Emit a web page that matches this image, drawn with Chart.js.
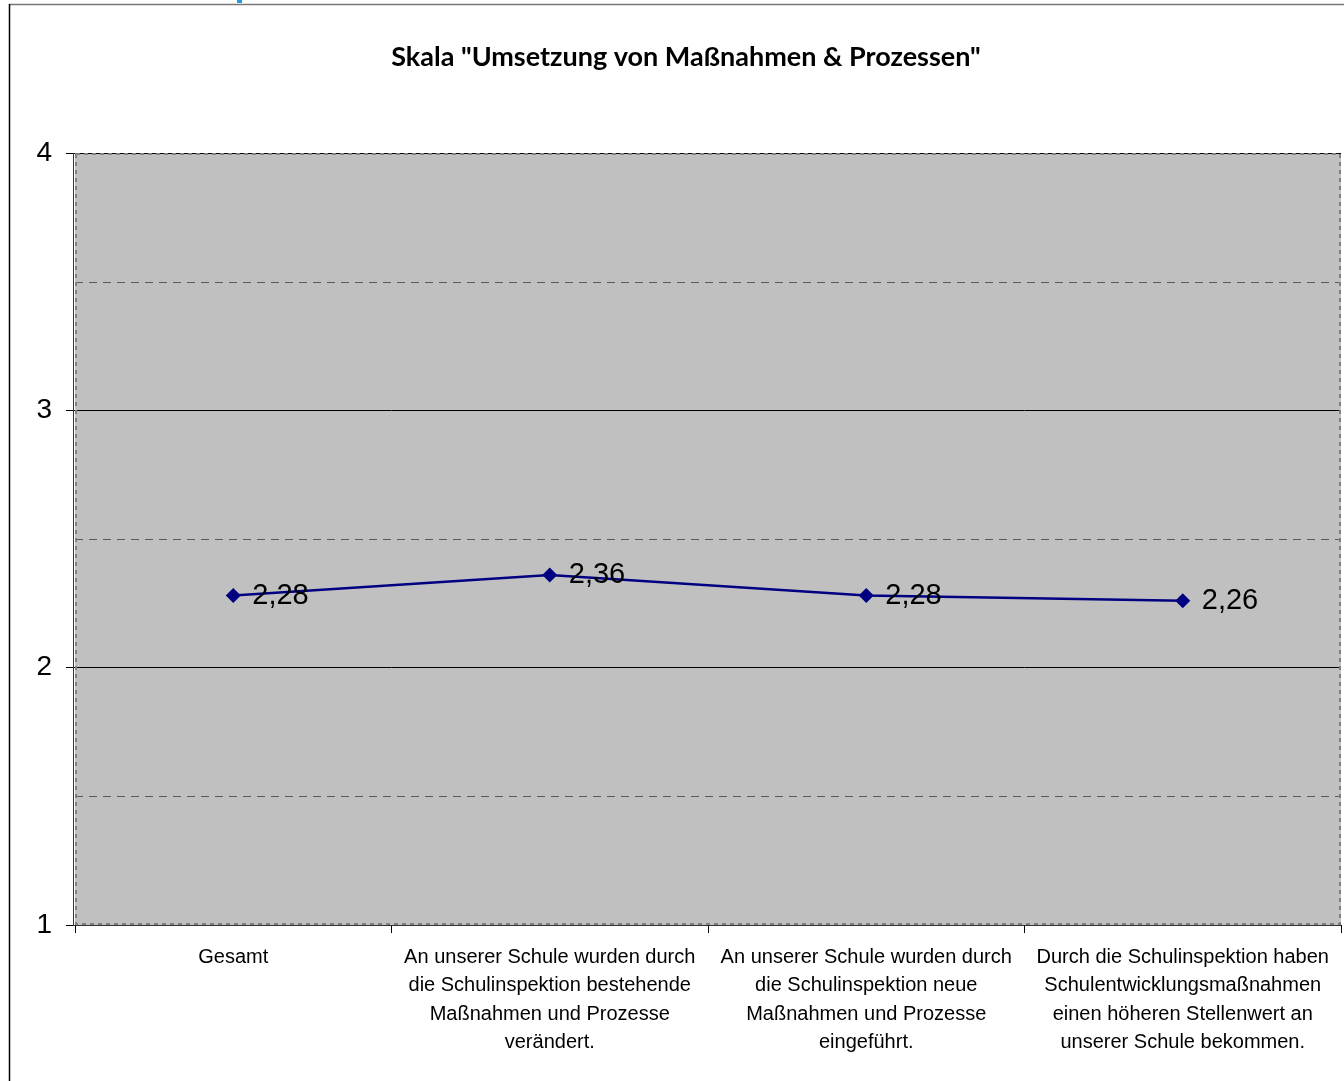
<!DOCTYPE html>
<html>
<head>
<meta charset="utf-8">
<script src="https://cdn.jsdelivr.net/npm/chart.js@4/dist/chart.umd.min.js"></script>
<style>
  html, body { margin: 0; padding: 0; background: #fff; }
  #wrap { width: 1344px; height: 1081px; }
</style>
</head>
<body>
<div id="wrap"><canvas id="c" width="1344" height="1081"></canvas></div>
<script>
// Scale items (x categories, multi-line labels)
const categories = [
  ['Gesamt'],
  ['An unserer Schule wurden durch', 'die Schulinspektion bestehende', 'Maßnahmen und Prozesse', 'verändert.'],
  ['An unserer Schule wurden durch', 'die Schulinspektion neue', 'Maßnahmen und Prozesse', 'eingeführt.'],
  ['Durch die Schulinspektion haben', 'Schulentwicklungsmaßnahmen', 'einen höheren Stellenwert an', 'unserer Schule bekommen.']
];
// Mean values per item
const meanValues = [2.28, 2.36, 2.28, 2.26];
// Y axis range and minor (dashed) gridline values
const yTicks = [1, 2, 3, 4];
const yMinor = [1.5, 2.5, 3.5];
const chartTitle = 'Skala "Umsetzung von Maßnahmen & Prozessen"';

const fmt = v => v.toFixed(2).replace('.', ',');

// White page, outer frame, title and plot background
const backdrop = {
  id: 'backdrop',
  beforeDraw(chart) {
    const ctx = chart.ctx;
    const a = chart.chartArea;
    ctx.save();
    ctx.fillStyle = '#fff';
    ctx.fillRect(0, 0, chart.width, chart.height);
    // frame
    ctx.lineWidth = 1.5;
    ctx.strokeStyle = '#777';
    ctx.beginPath(); ctx.moveTo(9, 4.5); ctx.lineTo(chart.width, 4.5); ctx.stroke();
    ctx.strokeStyle = '#000';
    ctx.beginPath(); ctx.moveTo(9.5, 4); ctx.lineTo(9.5, chart.height); ctx.stroke();
    // small mark at the top edge
    ctx.fillStyle = '#1aa0da';
    ctx.fillRect(237, 0, 5, 3);
    // title
    ctx.fillStyle = '#000';
    ctx.font = 'bold 27px Lato, sans-serif';
    ctx.textAlign = 'center';
    ctx.textBaseline = 'middle';
    ctx.fillText(chartTitle, 686, 57);
    // plot area
    ctx.fillStyle = '#c0c0c0';
    ctx.fillRect(a.left, a.top, a.right - a.left, a.bottom - a.top);
    // dashed half-step gridlines
    const ys = chart.scales.y;
    ctx.strokeStyle = '#5a5a5a';
    ctx.lineWidth = 1.2;
    ctx.setLineDash([8, 6]);
    yMinor.forEach(v => {
      const y = Math.round(ys.getPixelForValue(v)) + 0.5;
      ctx.beginPath(); ctx.moveTo(a.left, y); ctx.lineTo(a.right, y); ctx.stroke();
    });
    ctx.restore();
  },
  beforeDatasetsDraw(chart) {
    // dashed border of the plot area
    const ctx = chart.ctx;
    const a = chart.chartArea;
    ctx.save();
    ctx.strokeStyle = '#808080';
    ctx.lineWidth = 2;
    ctx.setLineDash([4, 4]);
    ctx.strokeRect(a.left + 1, a.top + 1, a.right - a.left - 2, a.bottom - a.top - 2);
    ctx.setLineDash([]);
    ctx.strokeStyle = '#333';
    ctx.lineWidth = 1;
    ctx.beginPath(); ctx.moveTo(a.left - 1.5, a.top); ctx.lineTo(a.left - 1.5, a.bottom + 1); ctx.stroke();
    ctx.beginPath(); ctx.moveTo(a.left - 1.5, a.bottom + 0.5); ctx.lineTo(a.right, a.bottom + 0.5); ctx.stroke();
    ctx.restore();
  }
};

// Value labels to the right of each point
const valueLabels = {
  id: 'valueLabels',
  afterDatasetsDraw(chart) {
    const ctx = chart.ctx;
    const meta = chart.getDatasetMeta(0);
    ctx.save();
    ctx.fillStyle = '#000';
    ctx.font = '29px "Liberation Sans", Arial, sans-serif';
    ctx.textAlign = 'left';
    ctx.textBaseline = 'middle';
    meta.data.forEach((pt, i) => {
      ctx.fillText(fmt(meanValues[i]), pt.x + 19, pt.y);
    });
    ctx.restore();
  }
};

new Chart(document.getElementById('c'), {
  type: 'line',
  data: {
    labels: categories,
    datasets: [{
      data: meanValues,
      borderColor: '#000080',
      backgroundColor: '#000080',
      borderWidth: 2.5,
      pointStyle: 'rectRot',
      pointRadius: 7.5,
      pointHoverRadius: 7.5,
      pointBorderWidth: 0,
      tension: 0
    }]
  },
  options: {
    responsive: false,
    animation: false,
    events: [],
    layout: { autoPadding: false, padding: { left: 0, right: 3, top: 153, bottom: 0 } },
    plugins: {
      legend: { display: false },
      tooltip: { enabled: false },
      title: { display: false }
    },
    scales: {
      x: {
        offset: true,
        grid: {
          offset: true,
          drawOnChartArea: false,
          drawTicks: true,
          tickLength: 8,
          tickColor: '#000',
          tickWidth: 1
        },
        border: { display: false },
        ticks: {
          color: '#000',
          autoSkip: false,
          maxRotation: 0,
          padding: 10,
          font: { family: '"Liberation Sans", Arial, sans-serif', size: 20, lineHeight: 1.425 }
        },
        afterFit(s) { s.height = 156; s.paddingLeft = 0; s.paddingRight = 0; }
      },
      y: {
        min: yTicks[0],
        max: yTicks[yTicks.length - 1],
        afterBuildTicks(s) { s.ticks = yTicks.map(v => ({ value: v })); },
        grid: {
          color: '#000',
          lineWidth: 1,
          tickLength: 9,
          tickColor: '#000'
        },
        border: { display: false },
        ticks: {
          color: '#000',
          padding: 14,
          font: { family: '"Liberation Sans", Arial, sans-serif', size: 28 }
        },
        afterFit(s) { s.width = 75; }
      }
    }
  },
  plugins: [backdrop, valueLabels]
});
</script>
</body>
</html>
